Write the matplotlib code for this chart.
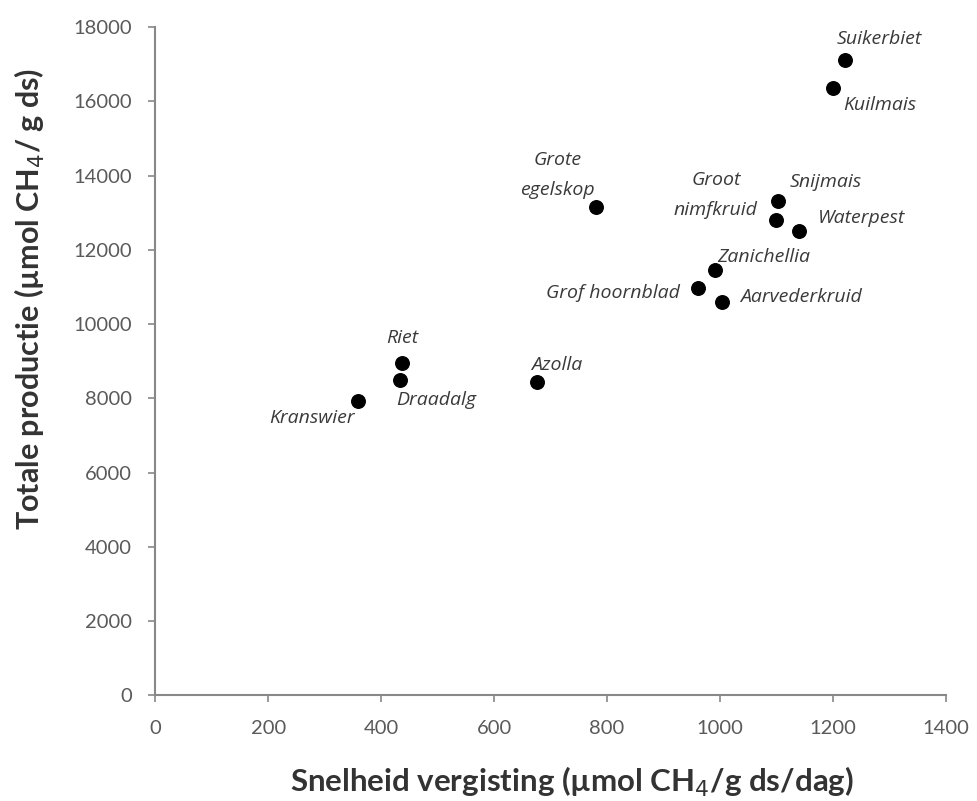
import matplotlib.pyplot as plt

plt.rcParams['font.family'] = ['Lato', 'DejaVu Sans']

# gewassen / waterplanten
namen = ['Suikerbiet', 'Kuilmais', 'Grote\negelskop', 'Snijmais', 'Groot\nnimfkruid',
         'Waterpest', 'Zanichellia', 'Grof hoornblad', 'Aarvederkruid', 'Azolla',
         'Riet', 'Draadalg', 'Kranswier']
snelheid = [1221, 1200, 780, 1103, 1099, 1140, 991, 961, 1004, 676, 437, 434, 359]
productie = [17110, 16360, 13150, 13330, 12800, 12500, 11450, 10970, 10600, 8450, 8960, 8500, 7940]

# label offsets in pixels (dx, dy, ha)
offsets = [(35, 21, 'center'), (47, -17, 'center'), (-38, 32, 'center'), (48, 19, 'center'),
           (-60, 25, 'center'), (63, 13, 'center'), (49, 13, 'center'), (-18, -5, 'right'),
           (18, 5, 'left'), (20, 17, 'center'), (0, 25, 'center'), (-4, -20, 'left'),
           (-3, -17, 'right')]

fig = plt.figure(figsize=(9.77, 8.01), dpi=100)
ax = fig.add_axes([0.159, 0.132, 0.809, 0.834])

ax.scatter(snelheid, productie, s=95, color='black', zorder=3)

for naam, x, y, (dx, dy, ha) in zip(namen, snelheid, productie, offsets):
    ax.annotate(naam, (x, y), xytext=(dx, dy), textcoords='offset pixels',
                ha=ha, va='center', style='italic', fontsize=14, color='#3a3a3a',
                family=['Open Sans', 'DejaVu Sans'], linespacing=1.85)

ax.set_xlim(0, 1400)
ax.set_ylim(0, 18000)
ax.set_xticks(range(0, 1401, 200))
ax.set_yticks(range(0, 18001, 2000))

for s in ['top', 'right']:
    ax.spines[s].set_visible(False)
for s in ['left', 'bottom']:
    ax.spines[s].set_color('#888888')
    ax.spines[s].set_linewidth(1.5)
ax.tick_params(direction='out', length=5, width=1.2, color='#888888',
               labelsize=14.5, labelcolor='#5a5a5a')
ax.tick_params(axis='x', pad=13)
ax.tick_params(axis='y', pad=12)

ax.set_xlabel('Snelheid vergisting (µmol CH$_4$/g ds/dag)', fontsize=22.5,
              fontweight='bold', color='#333333')
ax.set_ylabel('Totale productie (µmol CH$_4$/ g ds)', fontsize=22,
              fontweight='bold', color='#333333')
ax.xaxis.set_label_coords(0.527, -0.104)
ax.yaxis.set_label_coords(-0.137, 0.594)

fig.savefig('out.png', dpi=100)
